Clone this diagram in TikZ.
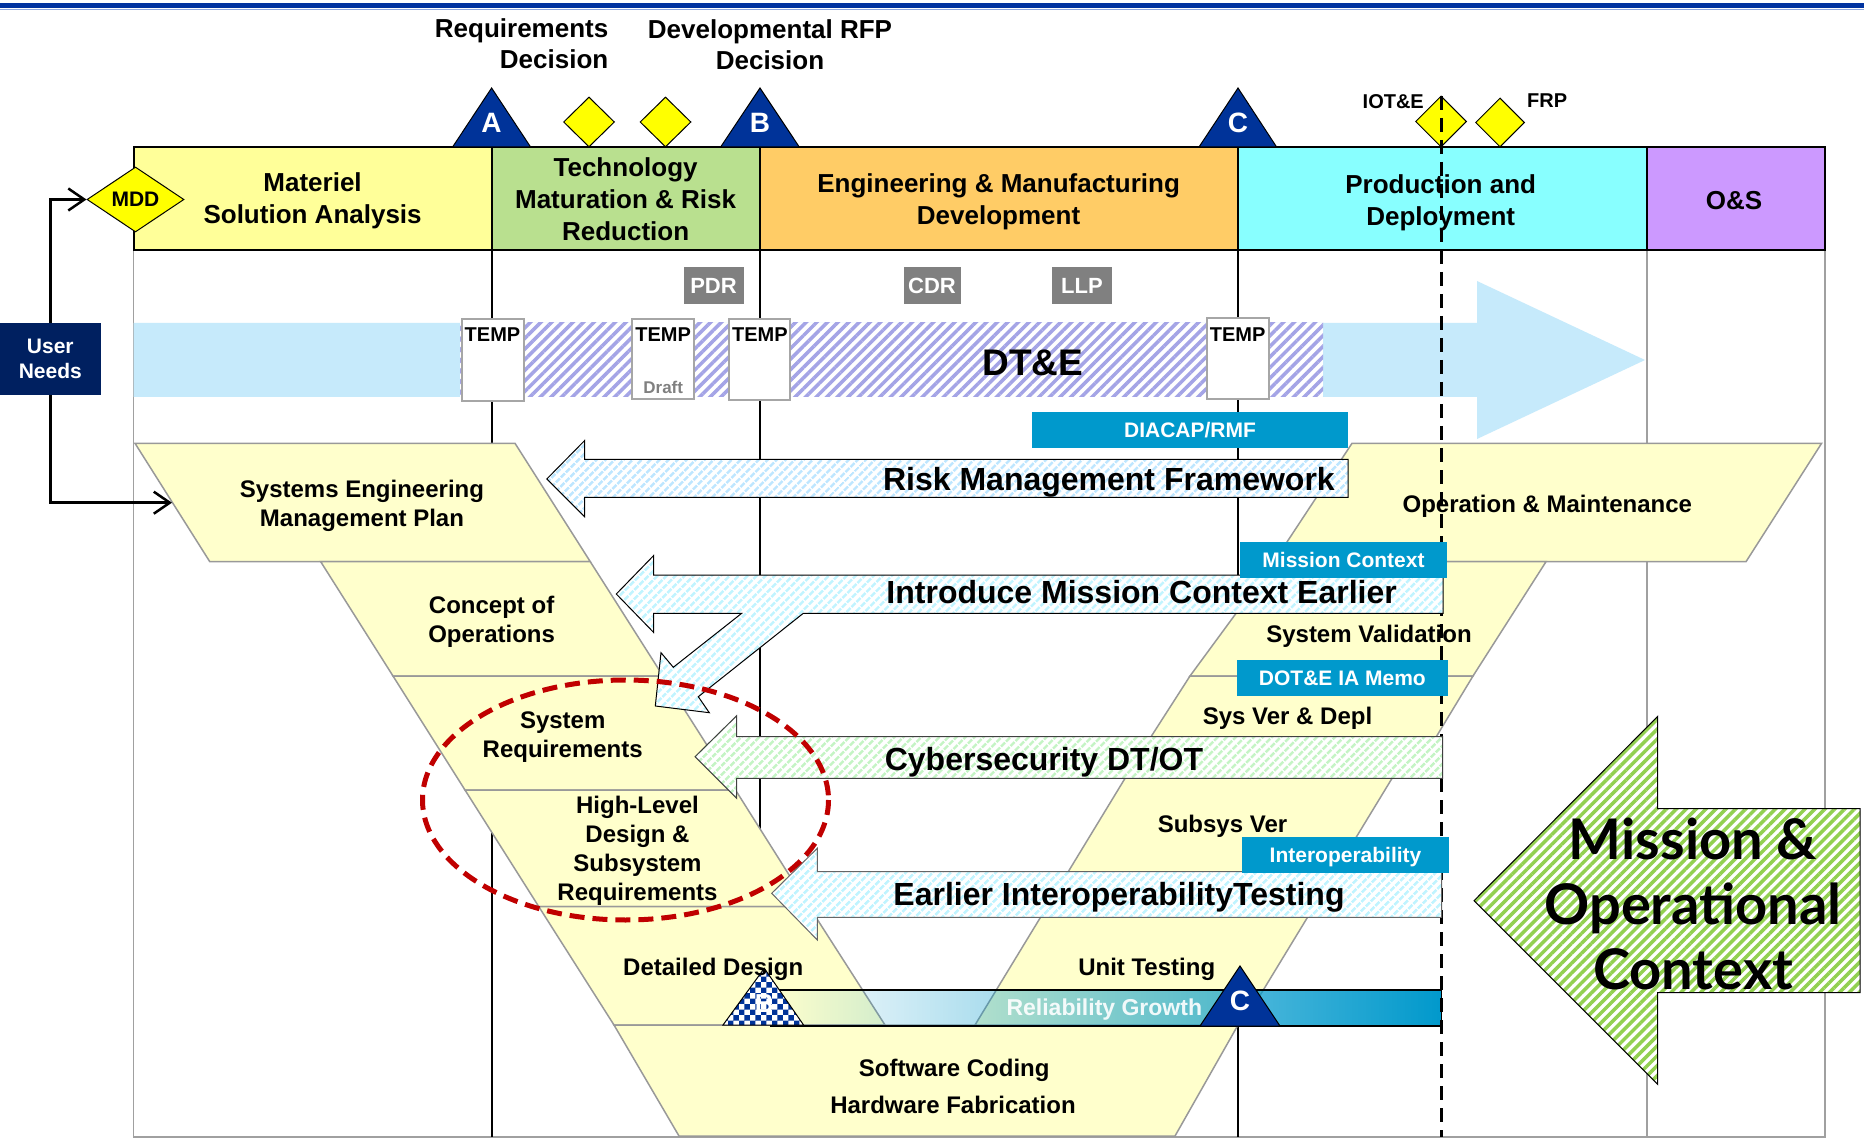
\documentclass[tikz,border=0pt]{standalone}
\usepackage{fontspec}
\setmainfont{Liberation Sans}
\newfontfamily\mocfont{Lato}
\usetikzlibrary{shapes.geometric,arrows.meta,patterns,patterns.meta,fadings}
\definecolor{topblue}{HTML}{0033A0}
\definecolor{topline}{HTML}{8FA8E0}
\definecolor{msa}{HTML}{FFFF99}
\definecolor{tmrr}{HTML}{B9E08F}
\definecolor{emd}{HTML}{FFCC66}
\definecolor{pdc}{HTML}{88FFFF}
\definecolor{osc}{HTML}{CC99FF}
\definecolor{vyel}{HTML}{FFFFCC}
\definecolor{vgray}{HTML}{999999}
\definecolor{boxblue}{HTML}{0099CC}
\definecolor{msblue}{HTML}{003399}
\definecolor{navy}{HTML}{002060}
\definecolor{grbox}{HTML}{808080}
\definecolor{ltblue}{HTML}{C6EAFB}
\definecolor{lav}{HTML}{A4A4E6}
\definecolor{stblue}{HTML}{BDE6FF}
\definecolor{stcyan}{HTML}{C0F4FF}
\definecolor{stgreen}{HTML}{C4F4C4}
\definecolor{biggreen}{HTML}{92D050}
\definecolor{redd}{HTML}{C00000}
\definecolor{diam}{HTML}{FFFF00}
\definecolor{framegray}{HTML}{A0A0A0}
\definecolor{tempgray}{HTML}{A6A6A6}
\tikzfading[name=barfade, left color=transparent!100, middle color=transparent!85, right color=transparent!0]
\begin{document}
\begin{tikzpicture}[x=1pt,y=-1pt,
  every node/.style={inner sep=0pt},
  lbl/.style={font=\fontsize{24}{29}\selectfont\bfseries, align=center},
  hdr/.style={font=\fontsize{26}{32}\selectfont\bfseries, align=center},
  toplbl/.style={font=\fontsize{26}{31}\selectfont\bfseries},
  biglbl/.style={font=\fontsize{32}{38}\selectfont\bfseries},
  smlbl/.style={font=\fontsize{20}{24}\selectfont\bfseries},
  bluebox/.style={fill=boxblue, text=white, font=\fontsize{21}{25}\selectfont\bfseries, text height=15pt, text depth=0pt},
  graybox/.style={fill=grbox, text=white, font=\fontsize{22}{26}\selectfont\bfseries, text height=16pt, text depth=0pt, minimum height=37pt},
  tempbox/.style={fill=white, draw=tempgray, line width=2pt},
  vshape/.style={fill=vyel, draw=vgray, line width=1.5pt},
  msfill/.style={fill=msblue, draw=black, line width=1pt},
  msletter/.style={text=white, font=\fontsize{28}{32}\selectfont\bfseries},
  ydiam/.style={shape=diamond, fill=diam, draw=black, line width=1pt, aspect=1},
  frameline/.style={draw=framegray, line width=1.5pt},
  mline/.style={draw=black, line width=2pt},
  conn/.style={draw=black, line width=2.5pt, -{Straight Barb[length=16pt,width=22pt]}},
  hdrcell/.style={draw=black, line width=2pt}
]
\useasboundingbox (0,0) rectangle (1864,1139);
\fill[white] (0,0) rectangle (1864,1139);
% top rule
\fill[topblue] (0,3) rectangle (1864,8.5);
\draw[topline, line width=1pt] (0,10) -- (1864,10);

% frame and milestone lines
\draw[frameline] (133.5,250) -- (133.5,1137) -- (1825,1137) -- (1825,250);
\draw[frameline] (1647,250) -- (1647,1137);
\draw[mline] (491.6,250) -- (491.6,1137);
\draw[mline] (760,250) -- (760,1137);
\draw[mline] (1238,250) -- (1238,1137);

% DT&E arrow
\fill[ltblue] (133.5,323) -- (1477,323) -- (1477,281) -- (1645,360) -- (1477,439) -- (1477,397) -- (133.5,397) -- cycle;
\path[preaction={fill=white}, pattern={Lines[angle=45,distance=7.5pt,line width=3.5pt]}, pattern color=lav] (460,323) rectangle (1323,397);
\node[font=\fontsize{37}{40}\selectfont\bfseries, anchor=base] (dte) at (1032.7,376) {DT\&E};

% header
\filldraw[hdrcell, fill=msa] (133.5,147) rectangle (491.6,250);
\filldraw[hdrcell, fill=tmrr] (491.6,147) rectangle (760,250);
\filldraw[hdrcell, fill=emd] (760,147) rectangle (1238,250);
\filldraw[hdrcell, fill=pdc] (1238,147) rectangle (1647,250);
\filldraw[hdrcell, fill=osc] (1647,147) rectangle (1825,250);
\node[hdr] (hmsa) at (312.6,201) {Materiel\\Solution Analysis};
\node[hdr] (htmrr) at (625.6,199.5) {Technology\\Maturation \& Risk\\Reduction};
\node[hdr] (hemd) at (998.6,202) {Engineering \& Manufacturing\\Development};
\node[hdr] (hpd) at (1440.7,202.5) {Production and\\Deployment};
\node[hdr, anchor=base] (hos) at (1734,209.3) {O\&S};

% milestones
\filldraw[msfill] (452.6,147) -- (491.6,88) -- (530.6,147) -- cycle;
\filldraw[msfill] (720.6,147) -- (760,88) -- (799.3,147) -- cycle;
\filldraw[msfill] (1199,147) -- (1238,88) -- (1276.6,147) -- cycle;
\node[msletter] (mA) at (491.6,123) {A};
\node[msletter] (mB) at (760,123) {B};
\node[msletter] (mC) at (1238,123) {C};
\node[ydiam, minimum width=51pt, minimum height=50pt] (d1) at (589,122) {};
\node[ydiam, minimum width=51pt, minimum height=50pt] (d2) at (665.5,122) {};
\node[ydiam, minimum width=51pt, minimum height=51pt] (diot) at (1441,121.5) {};
\node[ydiam, minimum width=49pt, minimum height=49pt] (dfrp) at (1500,122.5) {};
\node[toplbl, align=right, anchor=east] (reqd) at (608.5,43.5) {Requirements\\Decision};
\node[toplbl, align=center] (rfpd) at (770,45) {Developmental RFP\\Decision};
\node[smlbl, anchor=base east] (iote) at (1424,109) {IOT\&E};
\node[smlbl, anchor=base west] (frp) at (1527,108) {FRP};

% review boxes
\node[graybox, minimum width=60pt] (pdr) at (713.5,285.5) {PDR};
\node[graybox, minimum width=57pt] (cdr) at (932,285.5) {CDR};
\node[graybox, minimum width=59.6pt] (llp) at (1082,285.5) {LLP};

% TEMP boxes
\node[tempbox, minimum width=62pt, minimum height=82pt] (t1) at (492.5,360) {};
\node[tempbox, minimum width=62pt, minimum height=80pt] (t2) at (663.2,359) {};
\node[tempbox, minimum width=61pt, minimum height=81pt] (t3) at (759.9,359.5) {};
\node[tempbox, minimum width=62pt, minimum height=81pt] (t4) at (1237.7,358.5) {};
\node[smlbl, anchor=base] (t1l) at (492.5,342) {TEMP};
\node[smlbl, anchor=base] (t2l) at (663.2,342) {TEMP};
\node[smlbl, anchor=base] (t3l) at (759.9,342) {TEMP};
\node[smlbl, anchor=base] (t4l) at (1237.7,342) {TEMP};
\node[font=\fontsize{17}{20}\selectfont\bfseries, text=grbox, anchor=base] (t2d) at (663.2,394) {Draft};

% user needs and MDD
\node[fill=navy, text=white, font=\fontsize{21}{25}\selectfont\bfseries, align=center, minimum width=101pt, minimum height=72pt] (un) at (50.3,359) {User\\Needs};
\node[ydiam, minimum width=97pt, minimum height=65pt, font=\fontsize{21}{24}\selectfont\bfseries] (mdd) at (135.5,199.5) {MDD};
\coordinate (sempL) at (172,502.7);

% V shapes
\filldraw[vshape] (135,443.3) -- (515,443.3) -- (590.3,561.7) -- (209.8,561.7) -- cycle;
\filldraw[vshape] (320.7,561.7) -- (590.3,561.7) -- (663,676) -- (393,676) -- cycle;
\filldraw[vshape] (393,676) -- (663,676) -- (735.5,790) -- (465,790) -- cycle;
\filldraw[vshape] (465,790) -- (735.5,790) -- (809,906.5) -- (538.7,906.5) -- cycle;
\filldraw[vshape] (538.7,906.5) -- (809,906.5) -- (885,1025) -- (614,1025) -- cycle;
\filldraw[vshape] (614,1025) -- (1238,1025) -- (1175,1136) -- (679,1136) -- cycle;
\filldraw[vshape] (1352,443.3) -- (1821.6,443.3) -- (1746,561.7) -- (1274,561.7) -- cycle;
\filldraw[vshape] (1274,561.7) -- (1546,561.7) -- (1473,676) -- (1190,676) -- cycle;
\filldraw[vshape] (1190,676) -- (1473,676) -- (1424,757) -- (1138,757) -- cycle;
\filldraw[vshape] (1138,757) -- (1405,757) -- (1242,1025) -- (975,1025) -- cycle;

% reliability growth bar
\fill[boxblue, path fading=barfade] (771,990) rectangle (1441.7,1026);
\draw[black, line width=1.5pt] (771,990) rectangle (1441.7,1026);
\node[text=white, text opacity=0.9, font=\fontsize{23}{26}\selectfont\bfseries] (relg) at (1104.3,1010) {Reliability Growth};
\filldraw[preaction={fill=white}, pattern=checkerboard, pattern color=msblue, draw=black, line width=1pt] (723,1025) -- (764.3,968.3) -- (803.6,1025) -- cycle;
\node[text=white, font=\fontsize{26}{30}\selectfont\bfseries] (bB) at (764.3,1004) {B};
\filldraw[msfill] (1200,1026) -- (1240,966) -- (1280,1026) -- cycle;
\node[msletter] (bC) at (1240,1001) {C};

% IOT&E dashed line
\draw[black, line width=3pt, dash pattern=on 14pt off 8pt] (1441,96) -- (1441,1137);

% hatched arrows
\path[preaction={fill=white}, pattern={Lines[angle=45,distance=6.5pt,line width=3pt]}, pattern color=stblue, draw=black, line width=1pt]
  (546.8,479) -- (584.5,440.7) -- (584.5,459.3) -- (1348,459.3) -- (1348,497.3) -- (584.5,497.3) -- (584.5,516.7) -- cycle;
\path[preaction={fill=white}, pattern={Lines[angle=45,distance=6.5pt,line width=3pt]}, pattern color=stcyan, draw=black, line width=1pt]
  (616.3,594) -- (653.5,555.7) -- (653.5,575) -- (1443,575) -- (1443,613.3) -- (803.3,613.3) -- (698.3,696.7) -- (709.3,712.7) -- (655.3,706) -- (661,652.7) -- (673.3,667.3) -- (741.7,613.3) -- (653.5,613.3) -- (653.5,632.3) -- cycle;
\path[preaction={fill=white}, pattern={Lines[angle=45,distance=6.5pt,line width=3pt]}, pattern color=stgreen, draw=black!75, line width=1pt]
  (695,756.7) -- (736.7,715.7) -- (736.7,736.7) -- (1442.7,736.7) -- (1442.7,778.3) -- (736.7,778.3) -- (736.7,798.3) -- cycle;
\path[preaction={fill=white}, pattern={Lines[angle=45,distance=6.5pt,line width=3pt]}, pattern color=stcyan, draw=black!60, line width=1pt]
  (771.7,893.3) -- (817.3,848.3) -- (817.3,871.7) -- (1441.7,871.7) -- (1441.7,917.3) -- (817.3,917.3) -- (817.3,940) -- cycle;
\node[biglbl, anchor=base east] (rmft) at (1335,490) {Risk Management Framework};
\node[biglbl, anchor=base east] (introt) at (1397,603) {Introduce Mission Context Earlier};
\node[biglbl, anchor=base] (cybt) at (1044,770) {Cybersecurity DT/OT};
\node[biglbl, anchor=base] (intert) at (1119,905) {Earlier InteroperabilityTesting};

% blue label boxes
\node[bluebox, minimum width=316pt, minimum height=35.7pt] (diacap) at (1190,430) {DIACAP/RMF};
\node[bluebox, minimum width=207pt, minimum height=36pt] (mctx) at (1343.5,559.7) {Mission Context};
\node[bluebox, minimum width=210.7pt, minimum height=36pt] (dote) at (1342.4,678) {DOT\&E IA Memo};
\node[bluebox, minimum width=207pt, minimum height=35.4pt] (interop) at (1345.5,855) {Interoperability};

% V labels
\node[lbl] (semp) at (362,506) {Systems Engineering\\Management Plan};
\node[lbl] (conops) at (491.6,622) {Concept of\\Operations};
\node[lbl] (sysreq) at (562.7,737) {System\\Requirements};
\node[lbl] (hld) at (637.5,851) {High-Level\\Design \&\\Subsystem\\Requirements};
\node[lbl, anchor=base] (dd) at (713.2,975.3) {Detailed Design};
\node[lbl, anchor=base] (swc) at (954.2,1076) {Software Coding};
\node[lbl, anchor=base] (hwf) at (953,1113.3) {Hardware Fabrication};
\node[lbl, anchor=base] (ut) at (1146.7,975.3) {Unit Testing};
\node[lbl, anchor=base] (ssv) at (1222.5,832) {Subsys Ver};
\node[lbl, anchor=base] (svd) at (1287.5,724.6) {Sys Ver \& Depl};
\node[lbl, anchor=base] (sval) at (1369,642) {System Validation};
\node[lbl, anchor=base] (om) at (1547.3,512) {Operation \& Maintenance};

% red ellipse
\draw[redd, line width=5pt, dash pattern=on 15pt off 8pt] (625.5,800) ellipse [x radius=203, y radius=120];

% mission & operational context arrow
\path[preaction={fill=white}, pattern={Lines[angle=45,distance=7pt,line width=3.5pt]}, pattern color=biggreen, draw=black, line width=1pt]
  (1474,900.7) -- (1657.7,716.4) -- (1657.7,808.7) -- (1860,808.7) -- (1860,992.7) -- (1657.7,992.7) -- (1657.7,1084.3) -- cycle;
\node[font=\mocfont\bfseries\fontsize{56}{65}\selectfont, align=center] (moc) at (1693,904) {Mission \&\\Operational\\Context};

% connectors
\draw[conn] (un.north) |- (mdd.west);
\draw[conn] (un.south) |- (sempL);
\end{tikzpicture}
\end{document}
